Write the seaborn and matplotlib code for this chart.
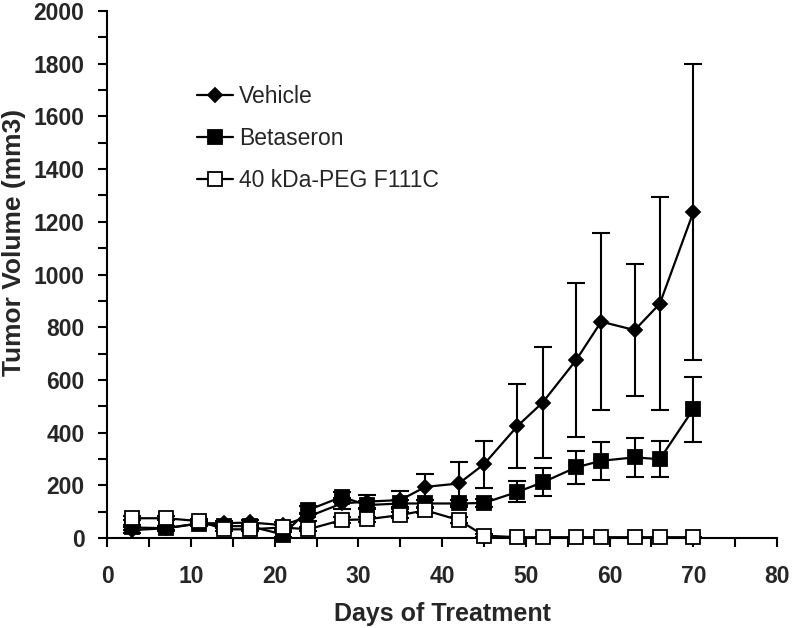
import numpy as np
import pandas as pd
import matplotlib
matplotlib.use('Agg')
import matplotlib.pyplot as plt
import seaborn as sns
from matplotlib.ticker import MultipleLocator

days = [3, 7, 11, 14, 17, 21, 24, 28, 31, 35, 38, 42, 45, 49, 52, 56, 59, 63, 66, 70]
vehicle = [30, 37, 56, 56, 59, 49, 81, 131, 138, 144, 194, 207, 280, 425, 514, 675, 821, 789, 889, 1236]
vehicle_err = [10, 10, 10, 10, 10, 10, 15, 20, 25, 35, 48, 80, 89, 158, 211, 292, 336, 251, 404, 561]
betaseron = [40, 37, 55, 45, 45, 13, 106, 156, 125, 131, 131, 131, 133, 175, 211, 268, 293, 306, 299, 489]
betaseron_err = [8, 8, 8, 8, 8, 8, 15, 20, 15, 15, 15, 15, 15, 40, 53, 64, 72, 75, 69, 123]
peg = [75, 75, 64, 33, 33, 40, 33, 68, 71, 87, 105, 68, 9, 3, 3, 3, 3, 3, 3, 3]
peg_err = [8, 8, 8, 8, 8, 8, 8, 10, 10, 10, 10, 10, 5, 2, 2, 2, 2, 2, 2, 2]
labels = ['Vehicle', 'Betaseron', '40 kDa-PEG F111C']

sns.set_style('ticks')
plt.rcParams['font.family'] = ['Liberation Sans', 'DejaVu Sans']

W, H = 792, 628
fig = plt.figure(figsize=(W / 100, H / 100), dpi=100)
x0, x1, y0, y1 = 107.3, 777.0, 538.0, 11.0
ax = fig.add_axes([x0 / W, 1 - y0 / H, (x1 - x0) / W, (y0 - y1) / H])

series = [
    (labels[0], vehicle, vehicle_err, 'D', 'black', 7.2, 3),
    (labels[1], betaseron, betaseron_err, 's', 'black', 9.8, 4),
    (labels[2], peg, peg_err, 's', 'white', 9.8, 5),
]

for name, vals, errs, marker, face, ms, z in series:
    ax.errorbar(days, vals, yerr=errs, fmt='none', ecolor='black',
                elinewidth=1.5, capsize=6.5, capthick=1.5, zorder=z)
    df = pd.DataFrame({'day': days, 'vol': vals})
    sns.lineplot(data=df, x='day', y='vol', ax=ax, color='black', lw=1.6,
                 marker=marker, markersize=ms, markerfacecolor=face,
                 markeredgecolor='black', markeredgewidth=1.3,
                 label=name, zorder=z + 0.5, clip_on=False)

ax.set_xlim(0, 80)
ax.set_ylim(0, 2000)
ax.xaxis.set_major_locator(MultipleLocator(10))
ax.xaxis.set_minor_locator(MultipleLocator(5))
ax.yaxis.set_major_locator(MultipleLocator(200))
ax.yaxis.set_minor_locator(MultipleLocator(100))
ax.tick_params(axis='both', which='both', direction='out', length=6.5, width=1.5, color='black')
ax.tick_params(axis='x', labelsize=16.5, pad=13)
ax.tick_params(axis='y', labelsize=16.5, pad=10)
plt.setp(ax.get_xticklabels(), fontweight='bold')
plt.setp(ax.get_yticklabels(), fontweight='bold')
for s in ['top', 'right']:
    ax.spines[s].set_visible(False)
for s in ['left', 'bottom']:
    ax.spines[s].set_linewidth(1.5)
    ax.spines[s].set_color('black')

ax.set_xlabel('Days of Treatment', fontsize=18, fontweight='bold')
ax.set_ylabel('Tumor Volume (mm3)', fontsize=19, fontweight='bold')
ax.xaxis.set_label_coords(0.5, -0.122)
ax.yaxis.set_label_coords(-0.121, 0.56)

leg = ax.legend(loc='upper left', bbox_to_anchor=(197 / W, 1 - 85 / H),
                bbox_transform=fig.transFigure, frameon=False, fontsize=16.5,
                handlelength=1.55, handletextpad=0.3, labelspacing=0.82,
                borderpad=0, borderaxespad=0)

fig.savefig('out.png', dpi=100)
